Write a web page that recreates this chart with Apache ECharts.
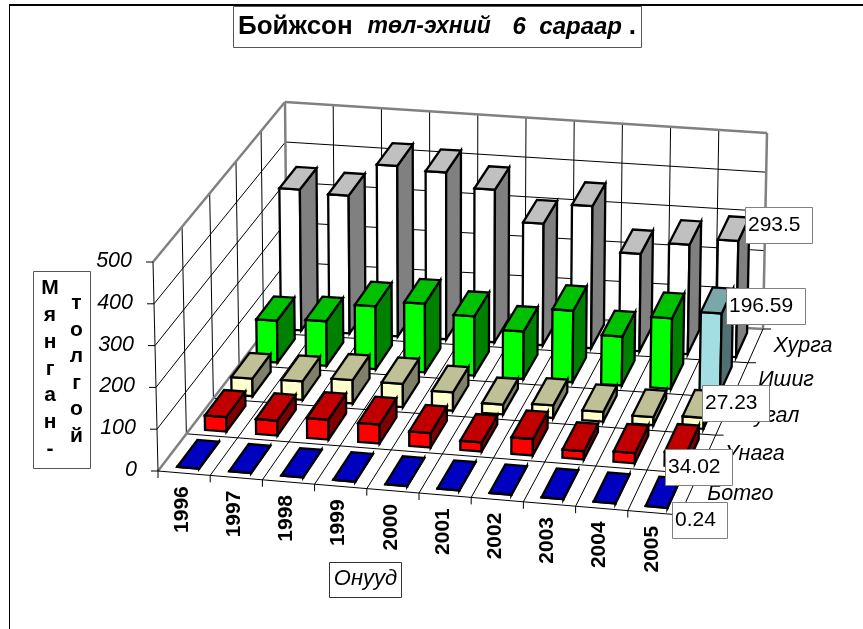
<!DOCTYPE html>
<html>
<head>
<meta charset="utf-8">
<style>
  html, body { margin: 0; padding: 0; background: #fff; }
  #main { width: 863px; height: 629px; }
</style>
<script src="https://cdn.jsdelivr.net/npm/echarts@6/dist/echarts.min.js"></script>
</head>
<body>
<div id="main"></div>
<script>
// data
var years = ['1996', '1997', '1998', '1999', '2000', '2001', '2002', '2003', '2004', '2005'];
var valueTicks = [0, 100, 200, 300, 400, 500];
var rowNames = ['Ботго', 'Унага', 'Тугал', 'Ишиг', 'Хурга'];
var botgo = [0.3, 0.3, 0.3, 0.3, 0.3, 0.3, 0.3, 0.3, 0.3, 0.24];
var unaga = [35, 36, 48, 46, 35, 22, 40, 20, 25, 34.02];
var tugal = [43, 45, 57, 57, 45, 24, 31, 24, 20, 27.23];
var ishig = [103, 110, 155, 170, 147, 118, 178, 122, 176, 196.59];
var khurga = [350, 343, 425, 417, 382, 305, 357, 245, 276, 293.5];
var rows = [botgo, unaga, tugal, ishig, khurga];

// front, top, side
var rowColors = [
  ['#0000ff', '#0000c0', '#000080'],
  ['#ff0000', '#c00000', '#800000'],
  ['#ffffcc', '#c0c096', '#80806a'],
  ['#00ff00', '#00c000', '#008000'],
  ['#ffffff', '#c0c0c0', '#808080']
];
var highlightColors = ['#a3dfe2', '#7aa7a9', '#517071'];

// label boxes in row order: left, top, width, height
var labelBoxes = [
  [672, 502, 55, 36],
  [665, 449, 67, 36],
  [702, 385, 67, 36],
  [726, 288, 79, 36],
  [745, 207, 67, 36]
];

var FONT = '"Liberation Sans", Arial, sans-serif';
var GRAY = '#808080';
var barWidth = 0.42;
var barDepth = 0.72;
var depthRatio = 0.886;

// corners of the floor and of the top plane of the 3d box
// order: front-left, front-right, back-right, back-left
var floorQuad = [[158, 471], [680, 515], [763, 329], [287, 302]];
var topQuad = [[153, 262], [684, 308], [767, 133], [285, 102]];

function lerp(a, b, t) {
  return [a[0] + (b[0] - a[0]) * t, a[1] + (b[1] - a[1]) * t];
}

// years stay evenly spaced, the depth gets foreshortened
function planeMap(q, u, w) {
  var t = w / (w + (1 - w) * depthRatio);
  return lerp(lerp(q[0], q[1], u), lerp(q[3], q[2], u), t);
}

// u along the years, w into the depth, h height 0..1
function project(u, w, h) {
  return lerp(planeMap(floorQuad, u, w), planeMap(topQuad, u, w), h);
}

// read u and h from the hidden cartesian axes
function toUnit(params, api, i, v) {
  var p = api.coord([i, v]);
  var s = params.coordSys;
  return { u: (p[0] - s.x) / s.width, h: (s.y + s.height - p[1]) / s.height };
}

function line(a, b, color, width) {
  return {
    type: 'line',
    shape: { x1: a[0], y1: a[1], x2: b[0], y2: b[1] },
    style: { stroke: color, lineWidth: width }
  };
}

function text(str, x, y, font, align, rotation) {
  var el = {
    type: 'text',
    x: x,
    y: y,
    style: { text: str, x: 0, y: 0, font: font + ' ' + FONT, fill: '#000', align: align, verticalAlign: 'middle' }
  };
  if (rotation) el.rotation = rotation;
  return el;
}

function poly(points, fill, stroke, width) {
  return {
    type: 'polygon',
    shape: { points: points },
    style: { fill: fill, stroke: stroke, lineWidth: width }
  };
}

function renderWalls(params, api) {
  var kids = [];
  var n = years.length, m = rowNames.length;
  // gridlines
  valueTicks.forEach(function (t) {
    if (t === 0 || t === 500) return;
    var h = toUnit(params, api, 0, t).h;
    kids.push(line(project(0, 0, h), project(0, 1, h), '#000', 1));
    kids.push(line(project(0, 1, h), project(1, 1, h), '#000', 1));
  });
  for (var i = 1; i < n; i++) {
    kids.push(line(project(i / n, 1, 0), project(i / n, 1, 1), '#000', 1));
    kids.push(line(project(i / n, 0, 0), project(i / n, 1, 0), '#000', 1));
  }
  for (var j = 1; j < m; j++) {
    kids.push(line(project(0, j / m, 0), project(0, j / m, 1), '#000', 1));
    kids.push(line(project(0, j / m, 0), project(1, j / m, 0), '#000', 1));
  }
  // box edges
  kids.push(line(project(0, 0, 1), project(0, 1, 1), GRAY, 2.5));
  kids.push(line(project(0, 1, 1), project(1, 1, 1), GRAY, 2.5));
  kids.push(line(project(0, 1, 0), project(0, 1, 1), GRAY, 2.5));
  kids.push(line(project(1, 1, 0), project(1, 1, 1), GRAY, 2.5));
  kids.push(line(project(0, 0, 0), project(0, 1, 0), GRAY, 2.5));
  kids.push(line(project(0, 1, 0), project(1, 1, 0), GRAY, 2.5));
  kids.push(line(project(0, 0, 0), project(0, 0, 1), '#000', 1));
  kids.push(line(project(0, 0, 0), project(1, 0, 0), '#000', 1));
  kids.push(line(project(1, 0, 0), project(1, 1, 0), '#000', 1));
  // value ticks and labels
  valueTicks.forEach(function (t) {
    var h = toUnit(params, api, 0, t).h;
    var p = project(0, 0, h);
    kids.push(line([p[0] - 7, p[1]], p, '#000', 1));
    kids.push(text(String(t), p[0] - 21, p[1] - 1, 'italic 21.5px', 'right'));
  });
  // year ticks and labels
  for (var k = 0; k <= n; k++) {
    var f = project(k / n, 0, 0);
    kids.push(line(f, [f[0], f[1] + 7], '#000', 1));
  }
  years.forEach(function (y, k) {
    var c = project((k + 0.5) / n, 0, 0);
    kids.push(text(y, c[0] - 2, c[1] + 13, 'bold 21px', 'right', Math.PI / 2));
  });
  // row ticks and labels
  for (var r = 0; r <= m; r++) {
    var e = project(1, r / m, 0);
    kids.push(line(e, [e[0] + 8, e[1]], '#000', 1));
  }
  rowNames.forEach(function (name, r) {
    var c = project(1, (r + 0.5) / m, 0);
    kids.push(text(name, c[0] + 18, c[1], 'italic 21.5px', 'left'));
  });
  return { type: 'group', children: kids };
}

function barRenderer(rowIndex) {
  return function (params, api) {
    var i = api.value(0), v = api.value(1);
    var m = rowNames.length;
    var top = toUnit(params, api, i, v);
    var bw = api.size([1, 0])[0] / params.coordSys.width;
    var u0 = top.u - bw * barWidth / 2, u1 = top.u + bw * barWidth / 2;
    var w0 = (rowIndex + (1 - barDepth) / 2) / m, w1 = (rowIndex + (1 + barDepth) / 2) / m;
    var c = rowColors[rowIndex];
    if (rowIndex === 3 && i === years.length - 1) c = highlightColors;
    return {
      type: 'group',
      children: [
        poly([project(u0, w0, 0), project(u1, w0, 0), project(u1, w0, top.h), project(u0, w0, top.h)], c[0], '#000', 2.3),
        poly([project(u1, w0, 0), project(u1, w1, 0), project(u1, w1, top.h), project(u1, w0, top.h)], c[2], '#000', 2.3),
        poly([project(u0, w0, top.h), project(u1, w0, top.h), project(u1, w1, top.h), project(u0, w1, top.h)], c[1], '#000', 2.3)
      ]
    };
  };
}

function renderLabels(params, api) {
  var kids = [];
  rows.forEach(function (values, r) {
    var b = labelBoxes[r];
    kids.push({
      type: 'rect',
      shape: { x: b[0] + 0.5, y: b[1] + 0.5, width: b[2], height: b[3] },
      style: { fill: '#fff', stroke: GRAY, lineWidth: 1 }
    });
    kids.push(text(String(values[values.length - 1]), b[0] + 3, b[1] + b[3] / 2, '21px', 'left'));
  });
  return { type: 'group', children: kids };
}

var series = [{
  type: 'custom',
  name: 'walls',
  silent: true,
  data: [[years[0], 0]],
  renderItem: renderWalls,
  z: 1
}];

// back rows first so the front rows cover them
for (var r = rows.length - 1; r >= 0; r--) {
  series.push({
    type: 'custom',
    name: rowNames[r],
    silent: true,
    data: rows[r].map(function (v, i) { return [years[i], v]; }),
    renderItem: barRenderer(r),
    encode: { x: 0, y: 1 },
    z: 2
  });
}

series.push({
  type: 'custom',
  name: 'labels',
  silent: true,
  data: [[years[0], 0]],
  renderItem: renderLabels,
  z: 3
});

var option = {
  backgroundColor: '#fff',
  animation: false,
  title: {
    left: 233,
    top: 6,
    padding: [8, 6, 8, 5],
    borderColor: '#555',
    borderWidth: 1,
    backgroundColor: '#fff',
    text: '{b|Бойжсон}{t|  төл-эхний  }{bi|6}{i|  сараар }{b|.}',
    textStyle: {
      fontFamily: 'Liberation Sans',
      rich: {
        b: { fontWeight: 'bold', fontSize: 26, fontFamily: 'Liberation Sans', color: '#000' },
        t: { fontStyle: 'italic', fontSize: 23, fontFamily: 'Liberation Sans', color: '#000', padding: [0, 9, 0, 2] },
        i: { fontStyle: 'italic', fontSize: 24, fontFamily: 'Liberation Sans', color: '#000' },
        bi: { fontStyle: 'italic', fontWeight: 'bold', fontSize: 24, fontFamily: 'Liberation Sans', color: '#000' }
      }
    }
  },
  // hidden axes only give the scales, the projection is done in renderItem
  grid: { left: 158, top: 100, width: 520, height: 200, show: false },
  xAxis: { type: 'category', data: years, show: false },
  yAxis: { type: 'value', min: 0, max: 500, interval: 100, show: false },
  series: series,
  graphic: [
    { type: 'line', shape: { x1: 9, y1: 5, x2: 863, y2: 5 }, style: { stroke: '#000', lineWidth: 2 } },
    { type: 'line', shape: { x1: 9.5, y1: 5, x2: 9.5, y2: 629 }, style: { stroke: '#000', lineWidth: 1 } },
    { type: 'rect', shape: { x: 33.5, y: 271.5, width: 57, height: 197 }, style: { fill: '#fff', stroke: '#555', lineWidth: 1 } },
    { type: 'text', x: 50, y: 275, style: { text: 'М\nя\nн\nг\nа\nн\n-', font: 'bold 21px ' + FONT, fill: '#000', align: 'center', lineHeight: 26.8 } },
    { type: 'text', x: 76.5, y: 290, style: { text: 'т\nо\nл\nг\nо\nй', font: 'bold 21px ' + FONT, fill: '#000', align: 'center', lineHeight: 26.5 } },
    { type: 'rect', shape: { x: 329.5, y: 562.5, width: 72, height: 35 }, style: { fill: '#fff', stroke: '#333', lineWidth: 1 } },
    { type: 'text', x: 365.5, y: 568, style: { text: 'Онууд', font: 'italic 22px ' + FONT, fill: '#000', align: 'center' } }
  ]
};

var chart = echarts.init(document.getElementById('main'), null, { renderer: 'canvas' });
chart.setOption(option);
</script>
</body>
</html>
